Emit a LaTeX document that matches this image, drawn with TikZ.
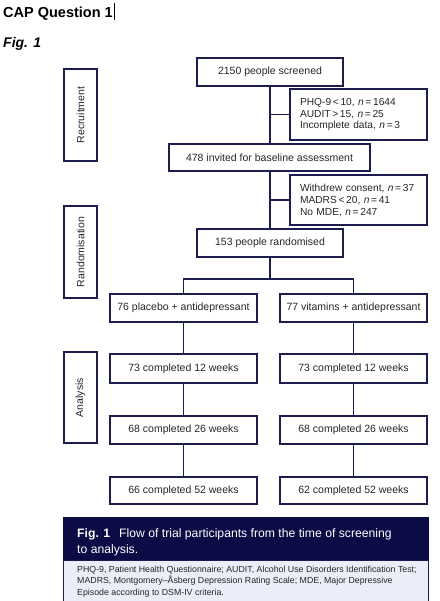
\documentclass[tikz,border=0pt]{standalone}
\usepackage{fontspec}
\setmainfont{Liberation Sans}
\definecolor{navy}{HTML}{1C1C4E}
\definecolor{capdark}{HTML}{0B0B45}
\definecolor{caplight}{HTML}{E9EEF8}
\definecolor{txt}{HTML}{262626}
\begin{document}
\begin{tikzpicture}[x=1pt,y=-1pt,
  box/.style={draw=navy, line width=1.2pt, rectangle, inner sep=0pt, text=txt, font=\fontsize{10.5}{12}\selectfont},
  exbox/.style={draw=navy, line width=1.2pt, rectangle, inner xsep=10pt, inner ysep=3pt, text=txt, align=left, text width=117pt, minimum width=137pt, font=\fontsize{10.2}{12}\selectfont},
  side/.style={draw=navy, line width=1.2pt, rectangle, inner sep=0pt, text=txt, minimum width=33pt, minimum height=92pt, font=\fontsize{10.5}{12}\selectfont},
  conn/.style={draw=navy, line width=1.2pt}]
\useasboundingbox (0,0) rectangle (439,601);
% header
\node[anchor=base west, inner sep=0pt, font=\fontsize{14.5}{16}\selectfont\bfseries] (title) at (3,17.5) {CAP Question 1};
\draw[line width=0.8pt] (114,3) -- (114,20);
\node[anchor=base west, inner sep=0pt, font=\fontsize{14}{16}\selectfont\bfseries\itshape] (fig) at (3,48) {Fig. 1};
% main boxes
\node[box, minimum width=146pt, minimum height=28pt] (A) at (270,72) {2150 people screened};
\node[exbox, minimum height=51pt] (E1) at (358.5,114.5) {PHQ-9\,<\,10, \textit{n}\,=\,1644\\AUDIT\,>\,15, \textit{n}\,=\,25\\Incomplete data, \textit{n}\,=\,3};
\node[box, minimum width=201pt, minimum height=27pt] (B) at (269.5,157.5) {478 invited for baseline assessment};
\node[exbox, minimum height=50pt] (E2) at (358.5,200) {Withdrew consent, \textit{n}\,=\,37\\MADRS\,<\,20, \textit{n}\,=\,41\\No MDE, \textit{n}\,=\,247};
\node[box, minimum width=146pt, minimum height=28pt] (C) at (270,243) {153 people randomised};
\coordinate (split) at (270,279);
\node[box, minimum width=147pt, minimum height=28pt] (L1) at (183.5,308) {76 placebo + antidepressant};
\node[box, minimum width=147pt, minimum height=28pt] (R1) at (353.5,308) {77 vitamins + antidepressant};
\node[box, minimum width=147pt, minimum height=29pt] (L2) at (183.5,368.5) {73 completed 12 weeks};
\node[box, minimum width=147pt, minimum height=29pt] (R2) at (353.5,368.5) {73 completed 12 weeks};
\node[box, minimum width=147pt, minimum height=28pt] (L3) at (183.5,430) {68 completed 26 weeks};
\node[box, minimum width=147pt, minimum height=28pt] (R3) at (353.5,430) {68 completed 26 weeks};
\node[box, minimum width=147pt, minimum height=27pt] (L4) at (183.5,490.5) {66 completed 52 weeks};
\node[box, minimum width=147pt, minimum height=27pt] (R4) at (353.5,490.5) {62 completed 52 weeks};
% side labels
\node[side] (S1) at (80.5,115) {\rotatebox{90}{Recruitment}};
\node[side] (S2) at (80.5,252) {\rotatebox{90}{Randomisation}};
\node[side, minimum height=91pt] (S3) at (80.5,397.5) {\rotatebox{90}{Analysis}};
% connectors
\draw[conn] (A.south) -- (A.south |- B.north);
\draw[conn] (A.south |- E1.west) -- (E1.west);
\draw[conn] (A.south |- B.south) -- (A.south |- C.north);
\draw[conn] (A.south |- E2.west) -- (E2.west);
\draw[conn] (C.south) -- (split);
\draw[conn] (L1.north) |- (split) -| (R1.north);
\draw[conn] (L1.south) -- (L2.north);
\draw[conn] (L2.south) -- (L3.north);
\draw[conn] (L3.south) -- (L4.north);
\draw[conn] (R1.south) -- (R2.north);
\draw[conn] (R2.south) -- (R3.north);
\draw[conn] (R3.south) -- (R4.north);
% caption
\fill[capdark] (63,517) rectangle (429,560);
\draw[navy, line width=0.8pt, fill=caplight] (63.4,560) rectangle (428.6,603);
\node[anchor=base west, inner sep=0pt, text=white, font=\fontsize{12.2}{14}\selectfont] (cap1) at (77,537) {\textbf{Fig. 1}\hspace{9pt}Flow of trial participants from the time of screening};
\node[anchor=base west, inner sep=0pt, text=white, font=\fontsize{12.2}{14}\selectfont] (cap2) at (77,553) {to analysis.};
\node[anchor=base west, inner sep=0pt, text=txt, font=\fontsize{8.8}{11}\selectfont] (f1) at (77,572) {PHQ-9, Patient Health Questionnaire; AUDIT, Alcohol Use Disorders Identification Test;};
\node[anchor=base west, inner sep=0pt, text=txt, font=\fontsize{8.8}{11}\selectfont] (f2) at (77,583.5) {MADRS, Montgomery–Åsberg Depression Rating Scale; MDE, Major Depressive};
\node[anchor=base west, inner sep=0pt, text=txt, font=\fontsize{8.8}{11}\selectfont] (f3) at (77,595) {Episode according to DSM-IV criteria.};
\end{tikzpicture}
\end{document}
